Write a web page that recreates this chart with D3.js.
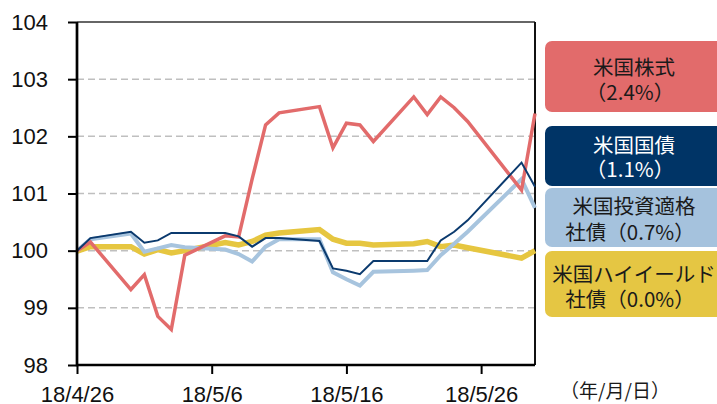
<!DOCTYPE html>
<html>
<head>
<meta charset="utf-8">
<script src="https://cdn.jsdelivr.net/npm/d3@7"></script>
<style>
  body { margin: 0; background: #fff; }
  svg { display: block; }
  .tick text { font-family: "Liberation Sans", Arial, sans-serif; }
</style>
</head>
<body>
<svg id="chart" width="717" height="404"></svg>
<script>
// trading days (weekends and the US holiday are skipped)
var dates = ["2018-04-26","2018-04-27","2018-04-30","2018-05-01","2018-05-02","2018-05-03","2018-05-04",
  "2018-05-07","2018-05-08","2018-05-09","2018-05-10","2018-05-11",
  "2018-05-14","2018-05-15","2018-05-16","2018-05-17","2018-05-18",
  "2018-05-21","2018-05-22","2018-05-23","2018-05-24","2018-05-25",
  "2018-05-29","2018-05-30"];

var usStocks = [100.00,100.15,99.32,99.58,98.85,98.62,99.92,
  100.26,100.24,101.25,102.20,102.41,
  102.52,101.80,102.23,102.20,101.91,
  102.69,102.38,102.69,102.50,102.26,
  101.06,102.40];
var usTreasury = [100.00,100.22,100.33,100.14,100.18,100.31,100.31,
  100.31,100.25,100.07,100.22,100.22,
  100.17,99.69,99.65,99.59,99.82,
  99.82,99.82,100.18,100.33,100.53,
  101.54,101.12];
var usIG = [100.00,100.20,100.30,99.98,100.04,100.10,100.06,
  100.02,99.94,99.81,100.07,100.20,
  100.20,99.62,99.50,99.39,99.63,
  99.65,99.66,99.92,100.12,100.33,
  101.25,100.75];
var usHY = [99.99,100.07,100.07,99.94,100.02,99.96,100.00,
  100.14,100.10,100.16,100.27,100.31,
  100.37,100.20,100.13,100.13,100.10,
  100.12,100.16,100.07,100.10,100.05,
  99.87,100.00];

var yTicks = [98, 99, 100, 101, 102, 103, 104];
var xTicks = ["2018-04-26","2018-05-06","2018-05-16","2018-05-26"];

var legendLine1 = ["米国株式", "米国国債", "米国投資適格", "米国ハイイールド"];
var legendLine2 = ["（2.4%）", "（1.1%）", "社債（0.7%）", "社債（0.0%）"];

var parse = d3.timeParse("%Y-%m-%d");
var fmt = d3.timeFormat("%y/%-m/%-d");

var svg = d3.select("#chart");

// scales
var x = d3.scaleTime()
  .domain([parse("2018-04-26"), parse("2018-05-30")])
  .range([77, 535]);
var y = d3.scaleLinear().domain([98, 104]).range([365, 22]);

// dashed gridlines
svg.append("g").selectAll("line")
  .data(yTicks.filter(function (d) { return d > 98 && d < 104; }))
  .enter().append("line")
  .attr("x1", 77).attr("x2", 535)
  .attr("y1", function (d) { return y(d); })
  .attr("y2", function (d) { return y(d); })
  .attr("stroke", "#bfbfbf")
  .attr("stroke-width", 1.5)
  .attr("stroke-dasharray", "7,4");

// top and right frame
svg.append("line").attr("x1", 77).attr("x2", 535).attr("y1", y(104)).attr("y2", y(104))
  .attr("stroke", "#333").attr("stroke-width", 1.3);
svg.append("line").attr("x1", 535).attr("x2", 535).attr("y1", y(104)).attr("y2", y(98))
  .attr("stroke", "#111").attr("stroke-width", 2);

// series, drawn bottom to top
var series = [
  { values: usHY, color: "#e6c640", width: 5.5 },
  { values: usIG, color: "#a7c4de", width: 4 },
  { values: usStocks, color: "#e26b6b", width: 3.5 },
  { values: usTreasury, color: "#0b3a6e", width: 2 }
];

var line = d3.line()
  .x(function (d, i) { return x(parse(dates[i])); })
  .y(function (d) { return y(d); });

series.forEach(function (s) {
  svg.append("path")
    .datum(s.values)
    .attr("fill", "none")
    .attr("stroke", s.color)
    .attr("stroke-width", s.width)
    .attr("stroke-linejoin", "miter")
    .attr("d", line);
});

// axes
var yAxis = svg.append("g")
  .attr("transform", "translate(77,0)")
  .call(d3.axisLeft(y).tickValues(yTicks).tickFormat(d3.format("d")).tickSize(9).tickPadding(20));
var xAxis = svg.append("g")
  .attr("transform", "translate(0," + y(98) + ")")
  .call(d3.axisBottom(x).tickValues(xTicks.map(parse)).tickFormat(fmt).tickSize(9).tickPadding(12));

[yAxis, xAxis].forEach(function (a) {
  a.select(".domain").attr("stroke", "#000").attr("stroke-width", 2.7);
  a.selectAll(".tick line").attr("stroke", "#000").attr("stroke-width", 2);
  a.selectAll(".tick text").attr("fill", "#111").style("font-size", "22px");
});
yAxis.select(".domain").attr("d", "M0," + y(104) + "V" + (y(98) + 1.3));
xAxis.select(".domain").attr("d", "M77,0H535");

// legend boxes on the right
var boxes = [
  { top: 41, bottom: 112, fill: "#e26b6b", text: "#1a1a1a", c1: 66, c2: 91 },
  { top: 126, bottom: 186, fill: "#003466", text: "#ffffff", c1: 144, c2: 168 },
  { top: 188, bottom: 247, fill: "#a5c2dd", text: "#1a1a1a", c1: 205, c2: 231 },
  { top: 251, bottom: 317, fill: "#e5c643", text: "#1a1a1a", c1: 273, c2: 298 }
];

boxes.forEach(function (b, i) {
  svg.append("rect")
    .attr("x", 545).attr("y", b.top)
    .attr("width", 200).attr("height", b.bottom - b.top)
    .attr("rx", 7).attr("fill", b.fill);
  svg.append("text")
    .attr("x", 634).attr("y", b.c1)
    .attr("text-anchor", "middle").attr("dominant-baseline", "central")
    .attr("fill", b.text)
    .style("font-family", "'Noto Sans CJK JP', sans-serif").style("font-size", "20.5px")
    .text(legendLine1[i]);
  svg.append("text")
    .attr("x", 630).attr("y", b.c2)
    .attr("text-anchor", "middle").attr("dominant-baseline", "central")
    .attr("fill", b.text)
    .style("font-family", "'Noto Sans CJK JP', sans-serif").style("font-size", "20.5px")
    .text(legendLine2[i]);
});

// unit note
svg.append("text")
  .attr("x", 560).attr("y", 389)
  .attr("dominant-baseline", "central")
  .attr("fill", "#1a1a1a")
  .style("font-family", "'Noto Sans CJK JP', sans-serif").style("font-size", "19px")
  .text("（年/月/日）");
</script>
</body>
</html>
